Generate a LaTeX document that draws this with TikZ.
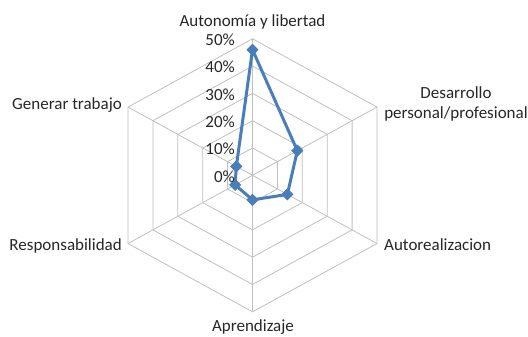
\documentclass[tikz,border=0pt]{standalone}
\usepackage{fontspec}
\setmainfont{Carlito}
\usetikzlibrary{shapes.geometric}
\definecolor{gridgray}{HTML}{BFBFBF}
\definecolor{serblue}{HTML}{4A7EBB}
\tikzset{
  gridline/.style={draw=gridgray, line width=0.8bp},
  serline/.style={draw=serblue, line width=3bp, line join=round},
  dmark/.style={diamond, fill=serblue, inner sep=0pt, minimum width=12bp, minimum height=12bp},
  lab/.style={font=\fontsize{17bp}{20.5bp}\selectfont, inner sep=0pt, text=black!85},
}
\begin{document}
\begin{tikzpicture}[x=1bp,y=1bp]
\useasboundingbox (0,0) rectangle (528,336);
\begin{scope}[shift={(252.5bp,160.7bp)}, x=143.76bp, y=136.5bp]
  \coordinate (c) at (0,0);
  \foreach \a/\n in {90/a1,30/a2,-30/a3,-90/a4,210/a5,150/a6}{
    \coordinate (\n) at (\a:1);
    \draw[gridline] (c) -- (\n);
  }
  \foreach \l in {0.2,0.4,0.6,0.8,1.0}{
    \draw[gridline] (90:\l) -- (30:\l) -- (-30:\l) -- (-90:\l) -- (210:\l) -- (150:\l) -- cycle;
  }
  \node[dmark] (d1) at (90:0.92) {};
  \node[dmark] (d2) at (30:0.36) {};
  \node[dmark] (d3) at (-30:0.28) {};
  \node[dmark] (d4) at (-90:0.18) {};
  \node[dmark] (d5) at (210:0.14) {};
  \node[dmark] (d6) at (150:0.13) {};
  \draw[serline] (d1.center) -- (d2.center) -- (d3.center) -- (d4.center) -- (d5.center) -- (d6.center) -- cycle;
  \foreach \n in {d1,d2,d3,d4,d5,d6}{ \node[dmark] at (\n) {}; }
\end{scope}
% tick labels
\foreach \v/\t in {0/0\%,1/10\%,2/20\%,3/30\%,4/40\%,5/50\%}{
  \node[lab, anchor=east] (t\v) at (235, 159.7+27.3*\v) {\t};
}
\node[lab, anchor=base] (la1) at (252.5, 309.3) {Autonomía y libertad};
\node[lab, anchor=base] (la2a) at (456, 237.7) {Desarrollo};
\node[lab, anchor=base] (la2b) at (456, 217.7) {personal/profesional};
\node[lab, anchor=base west] (la3) at (384, 86) {Autorealizacion};
\node[lab, anchor=base] (la4) at (253, 4.2) {Aprendizaje};
\node[lab, anchor=base east] (la5) at (122, 85.3) {Responsabilidad};
\node[lab, anchor=base east] (la6) at (122, 226.7) {Generar trabajo};
\end{tikzpicture}
\end{document}
